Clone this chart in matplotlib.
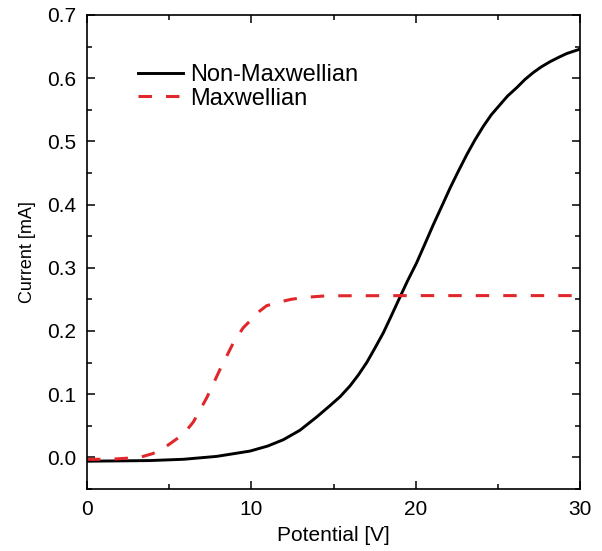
import numpy as np
import matplotlib
matplotlib.use("Agg")
import matplotlib.pyplot as plt
from matplotlib.ticker import MultipleLocator, FormatStrFormatter

# values
v_nonmax = [0.0, 2.0, 3.83, 5.86, 7.89, 9.92, 11.0, 11.95, 12.96, 13.98, 14.79,
            15.4, 16.0, 16.5, 17.02, 17.5, 18.03, 18.5, 19.05, 19.5, 20.06,
            20.55, 21.07, 21.6, 22.09, 22.6, 23.11, 23.6, 24.12, 24.6, 25.13,
            25.6, 26.15, 26.65, 27.16, 27.65, 28.17, 28.7, 29.19, 30.0]
i_nonmax = [-0.006, -0.0055, -0.005, -0.003, 0.0016, 0.010, 0.018, 0.028, 0.043,
            0.064, 0.082, 0.096, 0.113, 0.130, 0.150, 0.172, 0.197, 0.223,
            0.254, 0.279, 0.308, 0.337, 0.368, 0.398, 0.426, 0.453, 0.479,
            0.502, 0.524, 0.542, 0.558, 0.572, 0.585, 0.598, 0.609, 0.618,
            0.626, 0.633, 0.639, 0.646]

v_max = [0.0, 1.4, 3.2, 4.0, 4.64, 5.5, 6.0, 6.47, 7.28, 8.09, 8.9, 9.5, 10.12,
         10.53, 10.93, 11.74, 12.4, 13.16, 14.59, 20.0, 25.0, 30.0]
i_max = [-0.003, -0.003, 0.0, 0.006, 0.014, 0.030, 0.041, 0.056, 0.094, 0.139,
         0.181, 0.205, 0.221, 0.232, 0.240, 0.246, 0.250, 0.253, 0.2557, 0.256,
         0.256, 0.256]

plt.rcParams["font.family"] = ["Liberation Sans", "DejaVu Sans"]

fig = plt.figure(figsize=(6.02, 5.51), dpi=100)
ax = fig.add_axes([87 / 602, 1 - 489 / 551, 493 / 602, 474 / 551])

ax.plot(v_nonmax, i_nonmax, color="black", lw=2.1, label="Non-Maxwellian")
ax.plot(v_max, i_max, color="#e0282c", lw=2.2, ls=(0, (4.4, 4.6)), label="Maxwellian")

ax.set_xlim(0, 30)
ax.set_ylim(-0.05, 0.7)
ax.xaxis.set_major_locator(MultipleLocator(10))
ax.xaxis.set_minor_locator(MultipleLocator(5))
ax.yaxis.set_major_locator(MultipleLocator(0.1))
ax.yaxis.set_minor_locator(MultipleLocator(0.05))
ax.yaxis.set_major_formatter(FormatStrFormatter("%.1f"))
ax.tick_params(which="both", direction="in", top=True, right=True, width=1.1)
ax.tick_params(which="major", length=6, labelsize=15, pad=8)
ax.tick_params(which="minor", length=3.5)
for s in ax.spines.values():
    s.set_linewidth(1.2)

ax.set_xlabel("Potential [V]", fontsize=15, labelpad=5)
ax.set_ylabel("Current [mA]", fontsize=13, labelpad=8)

ax.legend(loc="upper left", bbox_to_anchor=(0.103, 0.897), frameon=False, fontsize=17,
          handlelength=1.9, handletextpad=0.3, labelspacing=0.08, borderaxespad=0,
          borderpad=0)

fig.savefig("out.png", dpi=100)
